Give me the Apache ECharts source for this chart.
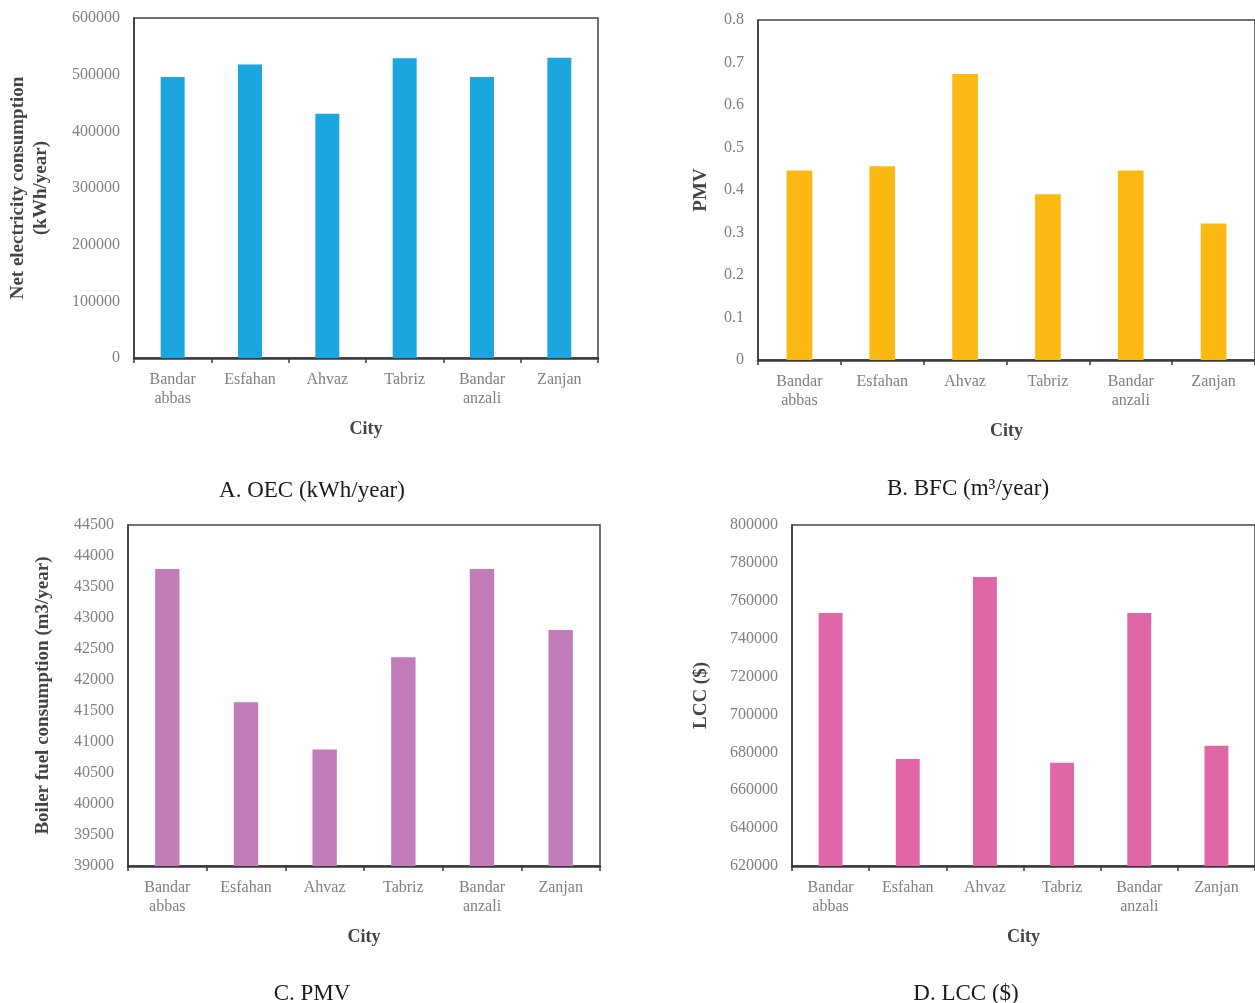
<!DOCTYPE html>
<html>
<head>
<meta charset="utf-8">
<script src="https://cdn.jsdelivr.net/npm/echarts@6/dist/echarts.min.js"></script>
<style>
html,body{margin:0;padding:0;background:#fff;}
#chart{width:1255px;height:1003px;}
</style>
</head>
<body>
<div id="chart"></div>
<script>
const cities = ['Bandar\nabbas', 'Esfahan', 'Ahvaz', 'Tabriz', 'Bandar\nanzali', 'Zanjan'];
const oecValues = [496000, 518000, 431000, 529000, 496000, 530000];
const pmvValues = [0.446, 0.456, 0.673, 0.390, 0.446, 0.321];
const bfcValues = [43790, 41640, 40880, 42365, 43790, 42805];
const lccValues = [753500, 676500, 772500, 674500, 753500, 683500];

const panelTitles = ['A. OEC (kWh/year)', 'B. BFC (m\u00b3/year)', 'C. PMV', 'D. LCC ($)'];
const yNames = ['Net electricity consumption\n(kWh/year)', 'PMV', 'Boiler fuel consumption (m3/year)', 'LCC ($)'];
const xName = 'City';
const yMin = [0, 0, 39000, 620000];
const yMax = [600000, 0.8, 44500, 800000];
const yInterval = [100000, 0.1, 500, 20000];

const colors = ['#1ba6e0', '#fdb913', '#c17cb9', '#e166a7'];
const seriesData = [oecValues, pmvValues, bfcValues, lccValues];

const FONT = '"Liberation Serif", "Times New Roman", serif';
const grids = [
  {left: 134, top: 18, width: 464, height: 340},
  {left: 758, top: 20, width: 498, height: 340},
  {left: 128, top: 525, width: 472, height: 341},
  {left: 792, top: 525, width: 465, height: 341}
];
const yNameGaps = [81, 45, 73, 79];
const titlePos = [
  {x: 312, y: 479}, {x: 968, y: 477}, {x: 312, y: 982}, {x: 966, y: 982}
];

const option = {
  backgroundColor: '#fff',
  animation: false,
  title: panelTitles.map((t, i) => ({
    text: t, left: titlePos[i].x, top: titlePos[i].y, textAlign: 'center', padding: 0,
    textStyle: {fontFamily: FONT, fontSize: 23, fontWeight: 'normal', color: '#1a1a1a'}
  })),
  grid: grids.map(g => Object.assign({show: true, borderColor: '#444', borderWidth: 1.5, backgroundColor: 'transparent'}, g)),
  xAxis: grids.map((g, i) => ({
    type: 'category', gridIndex: i, data: cities,
    name: xName, nameLocation: 'middle', nameGap: 62,
    nameTextStyle: {fontFamily: FONT, fontSize: 18, fontWeight: 'bold', color: '#444'},
    axisLine: {lineStyle: {color: '#3a3a3a', width: 2.5}},
    axisTick: {show: true, length: 5, lineStyle: {color: '#3a3a3a', width: 1.5}},
    axisLabel: {fontFamily: FONT, fontSize: 16, color: '#808080', margin: 12, lineHeight: 19, interval: 0}
  })),
  yAxis: grids.map((g, i) => ({
    type: 'value', gridIndex: i, min: yMin[i], max: yMax[i], interval: yInterval[i],
    name: yNames[i], nameLocation: 'middle', nameGap: yNameGaps[i], nameRotate: 90,
    nameTextStyle: {fontFamily: FONT, fontSize: 19, fontWeight: 'bold', color: '#444', lineHeight: 23},
    axisLine: {show: true, lineStyle: {color: '#3a3a3a', width: 1.5}},
    axisTick: {show: false},
    splitLine: {show: false},
    axisLabel: {fontFamily: FONT, fontSize: 16, color: '#808080', margin: 14,
      formatter: v => String(Math.round(v * 10) / 10)}
  })),
  series: seriesData.map((d, i) => ({
    type: 'bar', xAxisIndex: i, yAxisIndex: i, data: d,
    barWidth: '31%', itemStyle: {color: colors[i]}
  }))
};

const chart = echarts.init(document.getElementById('chart'), null, {renderer: 'canvas'});
chart.setOption(option);
</script>
</body>
</html>
